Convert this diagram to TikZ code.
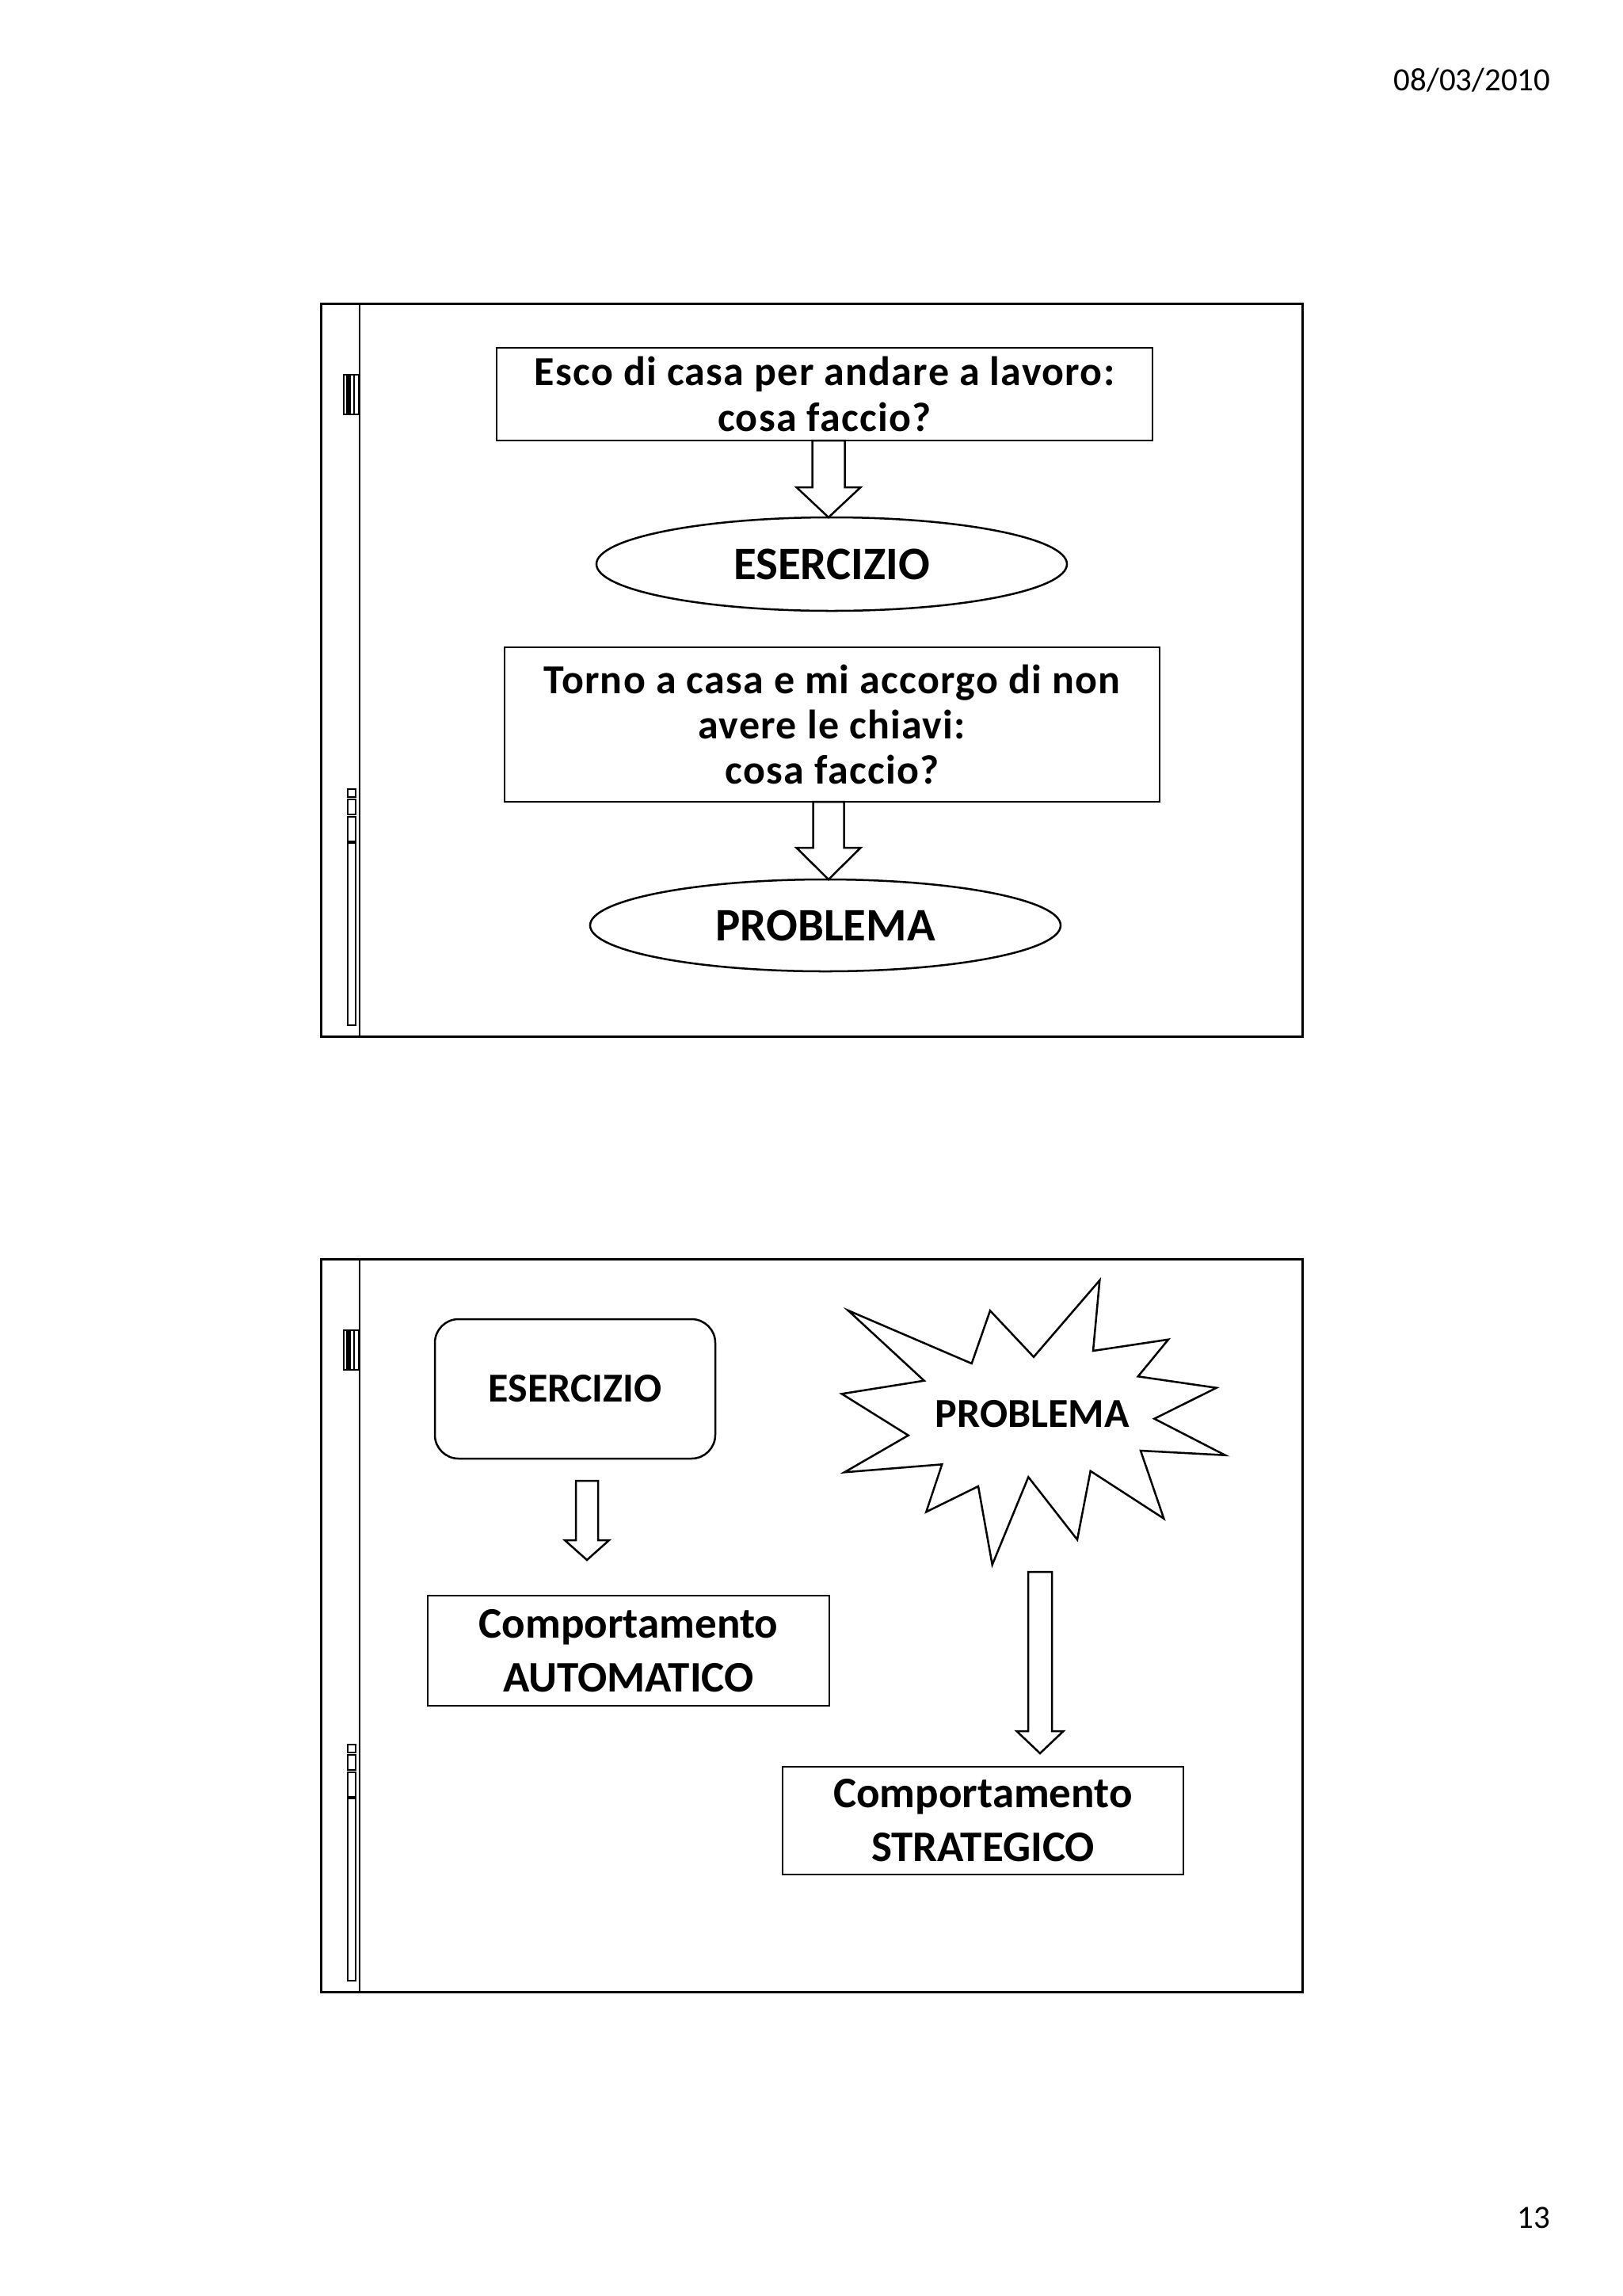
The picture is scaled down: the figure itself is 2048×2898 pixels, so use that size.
\documentclass[tikz,border=0pt]{standalone}
\usepackage{fontspec}
\setmainfont{Carlito}
\usetikzlibrary{shapes.geometric,calc}
\def\u{0.29066pt}
\tikzset{
  frameline/.style={line width=0.87pt,black},
  thinline/.style={line width=0.58pt,black},
  shapeline/.style={line width=0.73pt,black,line join=miter},
  qbox/.style={draw,shapeline,rectangle,inner sep=0pt,align=center,
    font=\fontsize{15.1}{16.6}\selectfont\bfseries\addfontfeatures{LetterSpace=2.5}},
  ovalnode/.style={draw,shapeline,ellipse,inner sep=0pt,
    font=\fontsize{17.1}{20}\selectfont\bfseries},
  cbox/.style={draw,shapeline,rectangle,inner sep=0pt,align=center,
    font=\fontsize{16}{19.8}\selectfont\bfseries},
  rbox/.style={draw,shapeline,rectangle,rounded corners=8.7pt,inner sep=0pt,
    font=\fontsize{15.1}{18}\selectfont\bfseries},
  starlabel/.style={inner sep=0pt,font=\fontsize{15.1}{18}\selectfont\bfseries},
  pagetext/.style={inner sep=0pt,font=\fontsize{11.9}{14}\selectfont},
}
\newcommand\blockarr[5]{%
  \draw[shapeline,fill=white] ($(#1)+(-#3,0)$) -- ($(#1)+(#3,0)$) -- ($(#2)+(#3,-#5)$)
    -- ($(#2)+(#4,-#5)$) -- (#2) -- ($(#2)+(-#4,-#5)$) -- ($(#2)+(-#3,-#5)$) -- cycle;}
\newcommand\slidedeco[1]{%
  \begin{scope}[yshift=#1]
    \draw[frameline] (405,383) rectangle (1644,1308);
    \draw[thinline] (454,383) -- (454,1308);
    \draw[thinline] (434,473) rectangle (453,523);
    \fill[black] (437,473) rectangle (443,523);
    \draw[thinline] (447,473) -- (447,523);
    \draw[thinline] (439,996) rectangle (449,1006);
    \draw[thinline] (439,1009) rectangle (449,1028);
    \draw[thinline] (439,1031) rectangle (449,1062);
    \draw[thinline] (439,1064) rectangle (449,1294);
  \end{scope}}
\begin{document}
\begin{tikzpicture}[x=0.29066pt,y=-0.29066pt]
\useasboundingbox (0,0) rectangle (2048,2898);
\fill[white] (0,0) rectangle (2048,2898);

\node[pagetext,anchor=base east] (date) at (1958,114) {08/03/2010};
\node[pagetext,anchor=base east] (pnum) at (1958,2812) {13};

% ---------- slide 1 ----------
\slidedeco{0}
\node[qbox,minimum width=828*\u,minimum height=117*\u] (b1) at (1041,497.5)
  {Esco di casa per andare a lavoro:\\cosa faccio?};
\node[ovalnode,minimum width=594*\u,minimum height=118*\u] (e1) at (1050,712) {ESERCIZIO};
\node[qbox,minimum width=827*\u,minimum height=195*\u] (b2) at (1050.5,914.5)
  {Torno a casa e mi accorgo di non\\avere le chiavi:\\cosa faccio?};
\node[ovalnode,minimum width=594*\u,minimum height=116*\u] (e2) at (1042,1168) {PROBLEMA};
\coordinate (a1t) at (1046,556);
\coordinate (a1h) at (1046,653);
\blockarr{a1t}{a1h}{20.5}{40.5}{38}
\coordinate (a2t) at (1046,1012);
\coordinate (a2h) at (1046,1110);
\blockarr{a2t}{a2h}{19.5}{40.5}{40}

% ---------- slide 2 ----------
\slidedeco{-1206*\u}
\node[rbox,minimum width=354*\u,minimum height=176*\u] (ex) at (726,1753) {ESERCIZIO};
\node[cbox,minimum width=507*\u,minimum height=139*\u] (auto) at (793.5,2083.5)
  {Comportamento\\AUTOMATICO};
\node[cbox,minimum width=506*\u,minimum height=136*\u] (strat) at (1241,2298)
  {Comportamento\\STRATEGICO};
\draw[shapeline] (1388.3,1616) -- (1380,1705) -- (1475,1690.7) -- (1436.7,1737.3)
  -- (1535.7,1751.7) -- (1457.3,1790.7) -- (1546.7,1836.7) -- (1440,1831)
  -- (1469.3,1916.7) -- (1376.7,1856.7) -- (1360,1943.3) -- (1298.3,1864.3)
  -- (1252.7,1975) -- (1235,1876) -- (1169.3,1908.3) -- (1189.3,1848.3)
  -- (1066,1858.3) -- (1146.7,1811.7) -- (1062.7,1759.3) -- (1166.7,1742.7)
  -- (1070.7,1654) -- (1226.7,1721) -- (1250,1654.3) -- (1305,1712.7) -- cycle;
\node[starlabel] (prob) at (1303,1785) {PROBLEMA};
\coordinate (a3t) at (741,1869);
\coordinate (a3h) at (741,1969);
\blockarr{a3t}{a3h}{14}{28}{25}
\coordinate (a4t) at (1313,1984);
\coordinate (a4h) at (1313,2213);
\blockarr{a4t}{a4h}{15}{29.5}{28}
\end{tikzpicture}
\end{document}
